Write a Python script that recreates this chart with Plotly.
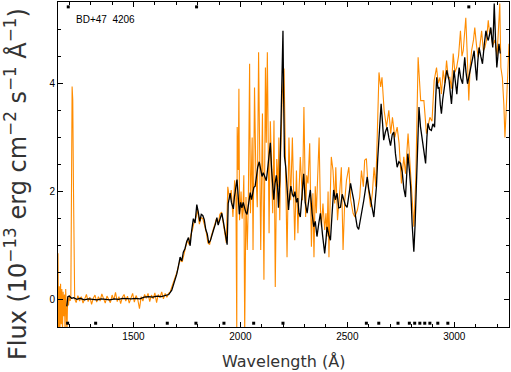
import plotly.graph_objects as go

# smoothed spectrum (black)
black_wl = [1188, 1193, 1200, 1210, 1220, 1235, 1250, 1270, 1290, 1310, 1330, 1350, 1370, 1390,
            1410, 1430, 1450, 1470, 1490, 1510, 1530, 1550, 1570, 1590, 1610, 1630, 1650, 1665,
            1679, 1690, 1702, 1710, 1718, 1726, 1733, 1741, 1749, 1757, 1765, 1772, 1780, 1788,
            1796, 1803, 1810, 1817, 1824, 1831, 1838, 1845, 1852, 1860, 1867, 1875, 1883, 1890,
            1896, 1901, 1907, 1913, 1920, 1926, 1933, 1938, 1943, 1948, 1952, 1958, 1963, 1967,
            1972, 1978, 1984, 1989, 1995, 2001, 2007, 2013, 2019, 2025, 2031, 2037, 2042, 2046,
            2052, 2058, 2063, 2069, 2075, 2081, 2088, 2094, 2101, 2107, 2114, 2121, 2127, 2133,
            2140, 2146, 2151, 2156, 2162, 2168, 2174, 2178, 2184, 2190, 2196, 2199, 2202, 2206,
            2212, 2218, 2225, 2231, 2236, 2243, 2249, 2255, 2262, 2268, 2274, 2280, 2287, 2296,
            2303, 2312, 2320, 2327, 2335, 2343, 2350, 2358, 2366, 2374, 2384, 2394, 2400, 2405,
            2413, 2421, 2428, 2436, 2444, 2452, 2460, 2468, 2476, 2483, 2491, 2499, 2507, 2515,
            2522, 2530, 2538, 2546, 2553, 2561, 2569, 2577, 2585, 2593, 2600, 2608, 2616, 2624,
            2630, 2636, 2642, 2647, 2652, 2658, 2664, 2670, 2678, 2686, 2694, 2702, 2710, 2717,
            2725, 2733, 2741, 2749, 2757, 2764, 2772, 2777, 2783, 2790, 2796, 2803, 2808, 2811,
            2817, 2824, 2830, 2835, 2842, 2850, 2858, 2866, 2872, 2877, 2885, 2893, 2900, 2908,
            2913, 2918, 2924, 2929, 2935, 2940, 2946, 2952, 2958, 2965, 2970, 2976, 2982, 2987,
            2993, 2999, 3006, 3012, 3017, 3023, 3030, 3039, 3044, 3049, 3055, 3062, 3070, 3077,
            3085, 3093, 3099, 3105, 3110, 3116, 3124, 3132, 3140, 3148, 3154, 3159, 3165, 3171,
            3176, 3180, 3184, 3187, 3193, 3199, 3204, 3209, 3215]
black_flux = [-0.12, 0.06, 0.07, 0.03, 0.04, 0.01, 0.03, 0.00, 0.02, 0.01, 0.00, 0.02, 0.01, 0.00,
              0.02, 0.01, 0.03, 0.02, 0.02, 0.03, 0.02, 0.05, 0.06, 0.05, 0.07, 0.06, 0.08, 0.10,
              0.18, 0.30, 0.47, 0.62, 0.79, 0.72, 0.88, 0.95, 1.08, 1.15, 1.00, 1.28, 1.50, 1.42,
              1.76, 1.62, 1.45, 1.58, 1.56, 1.48, 1.30, 1.22, 1.05, 1.10, 1.22, 1.30, 1.40, 1.52,
              1.38, 1.45, 1.55, 1.60, 1.45, 1.30, 1.08, 1.02, 1.78, 1.90, 1.97, 1.80, 1.72, 1.68,
              1.90, 2.05, 2.22, 1.95, 1.58, 1.80, 1.70, 1.80, 1.68, 1.62, 1.58, 1.75, 1.90, 1.98,
              1.85, 1.98, 2.08, 2.10, 2.30, 2.45, 2.55, 2.38, 2.28, 2.35, 2.25, 2.20, 2.40, 2.62,
              2.90, 2.40, 2.05, 1.85, 2.15, 2.30, 2.08, 1.70, 2.20, 3.50, 4.40, 4.97, 3.80, 2.65,
              2.45, 2.15, 1.66, 1.95, 2.10, 1.95, 1.90, 2.00, 1.80, 1.88, 1.60, 1.53, 1.95, 2.33,
              1.80, 1.60, 1.85, 2.03, 1.60, 1.35, 1.45, 1.17, 1.40, 1.60, 1.20, 0.86, 1.10, 1.35,
              1.20, 1.10, 1.55, 2.03, 1.85, 1.97, 1.70, 1.71, 1.95, 1.84, 1.75, 1.71, 1.90, 2.15,
              2.00, 1.84, 1.55, 1.35, 1.30, 1.47, 1.60, 1.84, 2.05, 2.27, 2.05, 1.84, 1.70, 1.53,
              1.85, 2.09, 2.60, 2.95, 3.35, 3.62, 3.30, 2.95, 3.10, 3.19, 3.00, 2.85, 3.05, 3.10,
              2.70, 2.45, 2.55, 2.52, 2.35, 2.06, 1.90, 2.30, 2.70, 2.40, 2.09, 1.40, 0.95, 0.89,
              1.40, 2.15, 3.00, 3.56, 3.20, 3.00, 2.80, 2.52, 3.00, 3.26, 3.15, 3.13, 3.25, 3.19,
              3.70, 4.11, 3.90, 3.93, 3.60, 3.44, 3.70, 3.87, 4.05, 4.24, 4.15, 4.05, 3.80, 3.62,
              3.95, 4.24, 4.00, 3.80, 4.05, 4.29, 4.10, 3.99, 4.25, 4.48, 4.20, 3.99, 4.15, 4.29,
              4.45, 4.60, 4.30, 4.05, 4.40, 4.66, 4.50, 4.36, 4.70, 4.97, 4.85, 4.79, 4.90, 5.03,
              4.80, 4.66, 5.10, 5.47, 4.80, 4.29, 4.50, 4.73, 4.55]

# unsmoothed spectrum (orange)
orange_wl = [1147, 1150, 1153, 1156, 1159, 1162, 1165, 1168, 1171, 1174, 1177, 1180, 1183, 1186,
             1189, 1192, 1196, 1200, 1204, 1207, 1210, 1213, 1216, 1219, 1222, 1225, 1232, 1240,
             1248, 1256, 1264, 1272, 1280, 1288, 1296, 1304, 1312, 1320, 1328, 1336, 1344, 1352,
             1360, 1368, 1376, 1384, 1392, 1400, 1408, 1416, 1424, 1432, 1440, 1448, 1456, 1464,
             1472, 1480, 1488, 1496, 1504, 1512, 1520, 1528, 1536, 1544, 1552, 1560, 1568, 1576,
             1584, 1592, 1600, 1608, 1616, 1624, 1632, 1640, 1648, 1656, 1664, 1672, 1680, 1688,
             1696, 1704, 1712, 1720, 1728, 1736, 1744, 1752, 1760, 1768, 1776, 1784, 1792, 1800,
             1808, 1816, 1824, 1832, 1840, 1848, 1856, 1864, 1872, 1880, 1888, 1896, 1904, 1912,
             1920, 1928, 1934, 1941, 1950, 1957, 1965, 1973, 1979, 1983, 1985, 1990, 1993, 1996,
             2003, 2008, 2012, 2016, 2020, 2026, 2032, 2037, 2043, 2047, 2051, 2055, 2059, 2066,
             2072, 2079, 2085, 2090, 2095, 2103, 2110, 2117, 2121, 2126, 2130, 2134, 2140, 2145,
             2151, 2157, 2163, 2170, 2176, 2180, 2184, 2188, 2196, 2204, 2211, 2218, 2227, 2235,
             2243, 2248, 2254, 2262, 2269, 2274, 2280, 2290, 2297, 2305, 2310, 2316, 2324, 2332,
             2339, 2344, 2350, 2355, 2362, 2368, 2374, 2379, 2386, 2394, 2400, 2405, 2410, 2414,
             2420, 2425, 2433, 2441, 2446, 2454, 2464, 2472, 2480, 2488, 2496, 2507, 2516, 2527,
             2535, 2547, 2558, 2566, 2575, 2581, 2589, 2597, 2609, 2617, 2625, 2633, 2641, 2648,
             2656, 2662, 2672, 2683, 2694, 2703, 2711, 2722, 2733, 2742, 2753, 2764, 2772, 2777,
             2784, 2796, 2804, 2811, 2820, 2831, 2843, 2858, 2870, 2886, 2896, 2906, 2917, 2925,
             2933, 2940, 2948, 2956, 2964, 2972, 2979, 2987, 2995, 3003, 3011, 3020, 3029, 3036,
             3042, 3054, 3060, 3068, 3074, 3081, 3090, 3096, 3104, 3112, 3120, 3128, 3136, 3143,
             3151, 3159, 3166, 3171, 3180, 3190, 3200, 3208, 3213, 3218, 3225, 3232, 3237, 3245,
             3256]
orange_flux = [0.86, -0.6, 0.25, -0.6, 0.30, -0.45, 0.20, -0.6, 0.15, -0.30, 0.10, -0.6, 0.20, -0.35,
               -0.6, 0.05, -0.10, 0.08, -0.02, 0.05, 1.80, 3.94, 3.70, 2.20, 0.10, 0.02, -0.05, 0.08,
               -0.02, 0.06, -0.06, 0.04, 0.10, -0.03, 0.05, -0.08, 0.03, 0.09, -0.04, 0.06, -0.02, 0.11,
               0.00, -0.06, 0.07, 0.02, -0.05, 0.09, 0.00, 0.14, -0.03, 0.06, -0.07, 0.05, 0.10, -0.02,
               0.07, -0.06, 0.04, 0.12, -0.04, 0.08, 0.01, -0.16, 0.06, -0.02, 0.10, 0.03, 0.12, -0.03,
               0.09, 0.02, 0.13, -0.05, 0.10, 0.04, 0.15, 0.02, 0.12, 0.05, 0.12, 0.15, 0.25, 0.33,
               0.42, 0.52, 0.66, 0.74, 0.70, 0.86, 0.98, 1.10, 1.02, 1.20, 1.30, 1.45, 1.52, 1.66,
               1.40, 1.52, 1.50, 1.38, 1.25, 1.05, 1.02, 1.18, 1.28, 1.36, 1.50, 1.40, 1.58, 1.62,
               1.40, 1.22, 1.05, 2.09, 1.85, 2.03, 1.53, 2.21, 1.90, -0.6, 3.19, 2.40, 3.90, 1.47,
               2.00, 1.50, 1.70, 2.30, -0.6, 1.90, 0.92, 1.80, 4.36, 1.60, 2.52, 3.00, 0.92, 3.92,
               2.40, 1.71, 4.57, 2.00, 0.92, 3.44, 0.37, 4.29, 2.90, 4.57, 3.00, 1.23, 3.30, 2.58,
               1.60, 3.31, 0.24, 2.60, 2.09, 3.00, 1.47, 2.64, 3.80, 4.27, 2.58, 0.79, 3.00, 1.84,
               3.00, 1.90, 1.10, 2.39, 1.23, 2.00, 2.64, 1.84, 3.56, 1.53, 2.30, 2.15, 2.89, 0.98,
               1.97, 0.79, 2.10, 1.60, 2.20, 3.00, 1.70, 1.35, 1.78, 1.29, 1.60, 1.17, 2.00, 0.79,
               1.90, 2.64, 2.39, 1.78, 2.45, 1.47, 1.97, 2.45, 0.92, 1.84, 2.21, 2.45, 1.84, 1.60,
               1.53, 1.66, 1.90, 2.39, 2.09, 2.58, 2.61, 2.09, 1.71, 1.97, 2.45, 2.09, 3.19, 4.20,
               3.93, 4.11, 3.50, 3.19, 3.50, 3.07, 3.37, 3.00, 3.19, 2.89, 2.15, 2.64, 2.33, 2.70,
               3.07, 2.33, 1.90, 1.35, 2.21, 4.48, 3.68, 3.68, 3.07, 3.37, 3.30, 4.05, 4.29, 4.00,
               4.11, 3.80, 4.24, 4.00, 4.42, 4.10, 4.11, 3.90, 4.55, 4.20, 4.29, 4.50, 4.97, 4.50,
               4.60, 5.21, 4.60, 3.68, 4.30, 4.60, 4.80, 5.03, 4.70, 4.48, 4.70, 4.97, 4.60, 4.66,
               4.80, 5.16, 4.90, 5.00, 4.70, 4.80, 4.50, 5.10, 5.47, 4.29, 4.10, 3.60, 3.00, 3.70,
               4.73]

# flagged pixels
flag_bottom_wl = [1192, 1323, 1658, 1792, 1923, 2062, 2199, 2589, 2647, 2737, 2790, 2815, 2839,
                  2862, 2886, 2923, 2970]
flag_top_wl = [1195, 1795, 3068]

star_name = "BD+47\u00a0\u00a04206"

fig = go.Figure()
fig.add_trace(go.Scatter(x=orange_wl, y=orange_flux, mode="lines",
                         line=dict(color="#ff8c00", width=1.1)))
fig.add_trace(go.Scatter(x=black_wl, y=black_flux, mode="lines",
                         line=dict(color="black", width=1.3)))
fig.add_trace(go.Scatter(x=flag_bottom_wl, y=[-0.43] * len(flag_bottom_wl), mode="markers",
                         marker=dict(color="black", size=3, symbol="square")))
fig.add_trace(go.Scatter(x=flag_top_wl, y=[5.41] * len(flag_top_wl), mode="markers",
                         marker=dict(color="black", size=3, symbol="square")))

axis_style = dict(showline=True, linecolor="black", linewidth=1, mirror="allticks",
                  ticks="inside", ticklen=5, tickcolor="black", showgrid=False, zeroline=False,
                  tickfont=dict(family="Liberation Sans", size=10, color="black"))

fig.update_xaxes(range=[1147, 3256], tickvals=[1500, 2000, 2500, 3000],
                 minor=dict(dtick=100, tick0=1000, ticks="inside", ticklen=3, tickcolor="black"),
                 **axis_style)
fig.update_yaxes(range=[-0.5, 5.5], tickvals=[0, 2, 4],
                 minor=dict(dtick=0.5, tick0=0, ticks="inside", ticklen=3, tickcolor="black"),
                 **axis_style)

fig.add_annotation(x=0.5, y=-0.105, xref="paper", yref="paper", showarrow=False,
                   text="Wavelength (Å)", xanchor="center", yanchor="middle",
                   font=dict(family="DejaVu Sans", size=16, color="#333"))
fig.add_annotation(x=-0.093, y=0.44, xref="paper", yref="paper", showarrow=False,
                   text="Flux (10<sup>−13</sup> erg cm<sup>−2</sup> s<sup>−1</sup> Å<sup>−1</sup>)",
                   textangle=-90, xanchor="center", yanchor="middle",
                   font=dict(family="DejaVu Sans", size=24, color="#333"))
fig.add_annotation(x=0.035, y=0.945, xref="paper", yref="paper", showarrow=False,
                   text=star_name, xanchor="left", yanchor="middle",
                   font=dict(family="Liberation Sans", size=10, color="black"))

fig.update_layout(width=511, height=372, showlegend=False,
                  margin=dict(l=58, r=2, t=2, b=45),
                  plot_bgcolor="white", paper_bgcolor="white")

# page has a default body margin; drop it so the figure sits at the window corner
fig.write_html("out.html", config={"displayModeBar": False},
               post_script="document.body.style.margin='0';document.body.style.overflow='hidden';")
